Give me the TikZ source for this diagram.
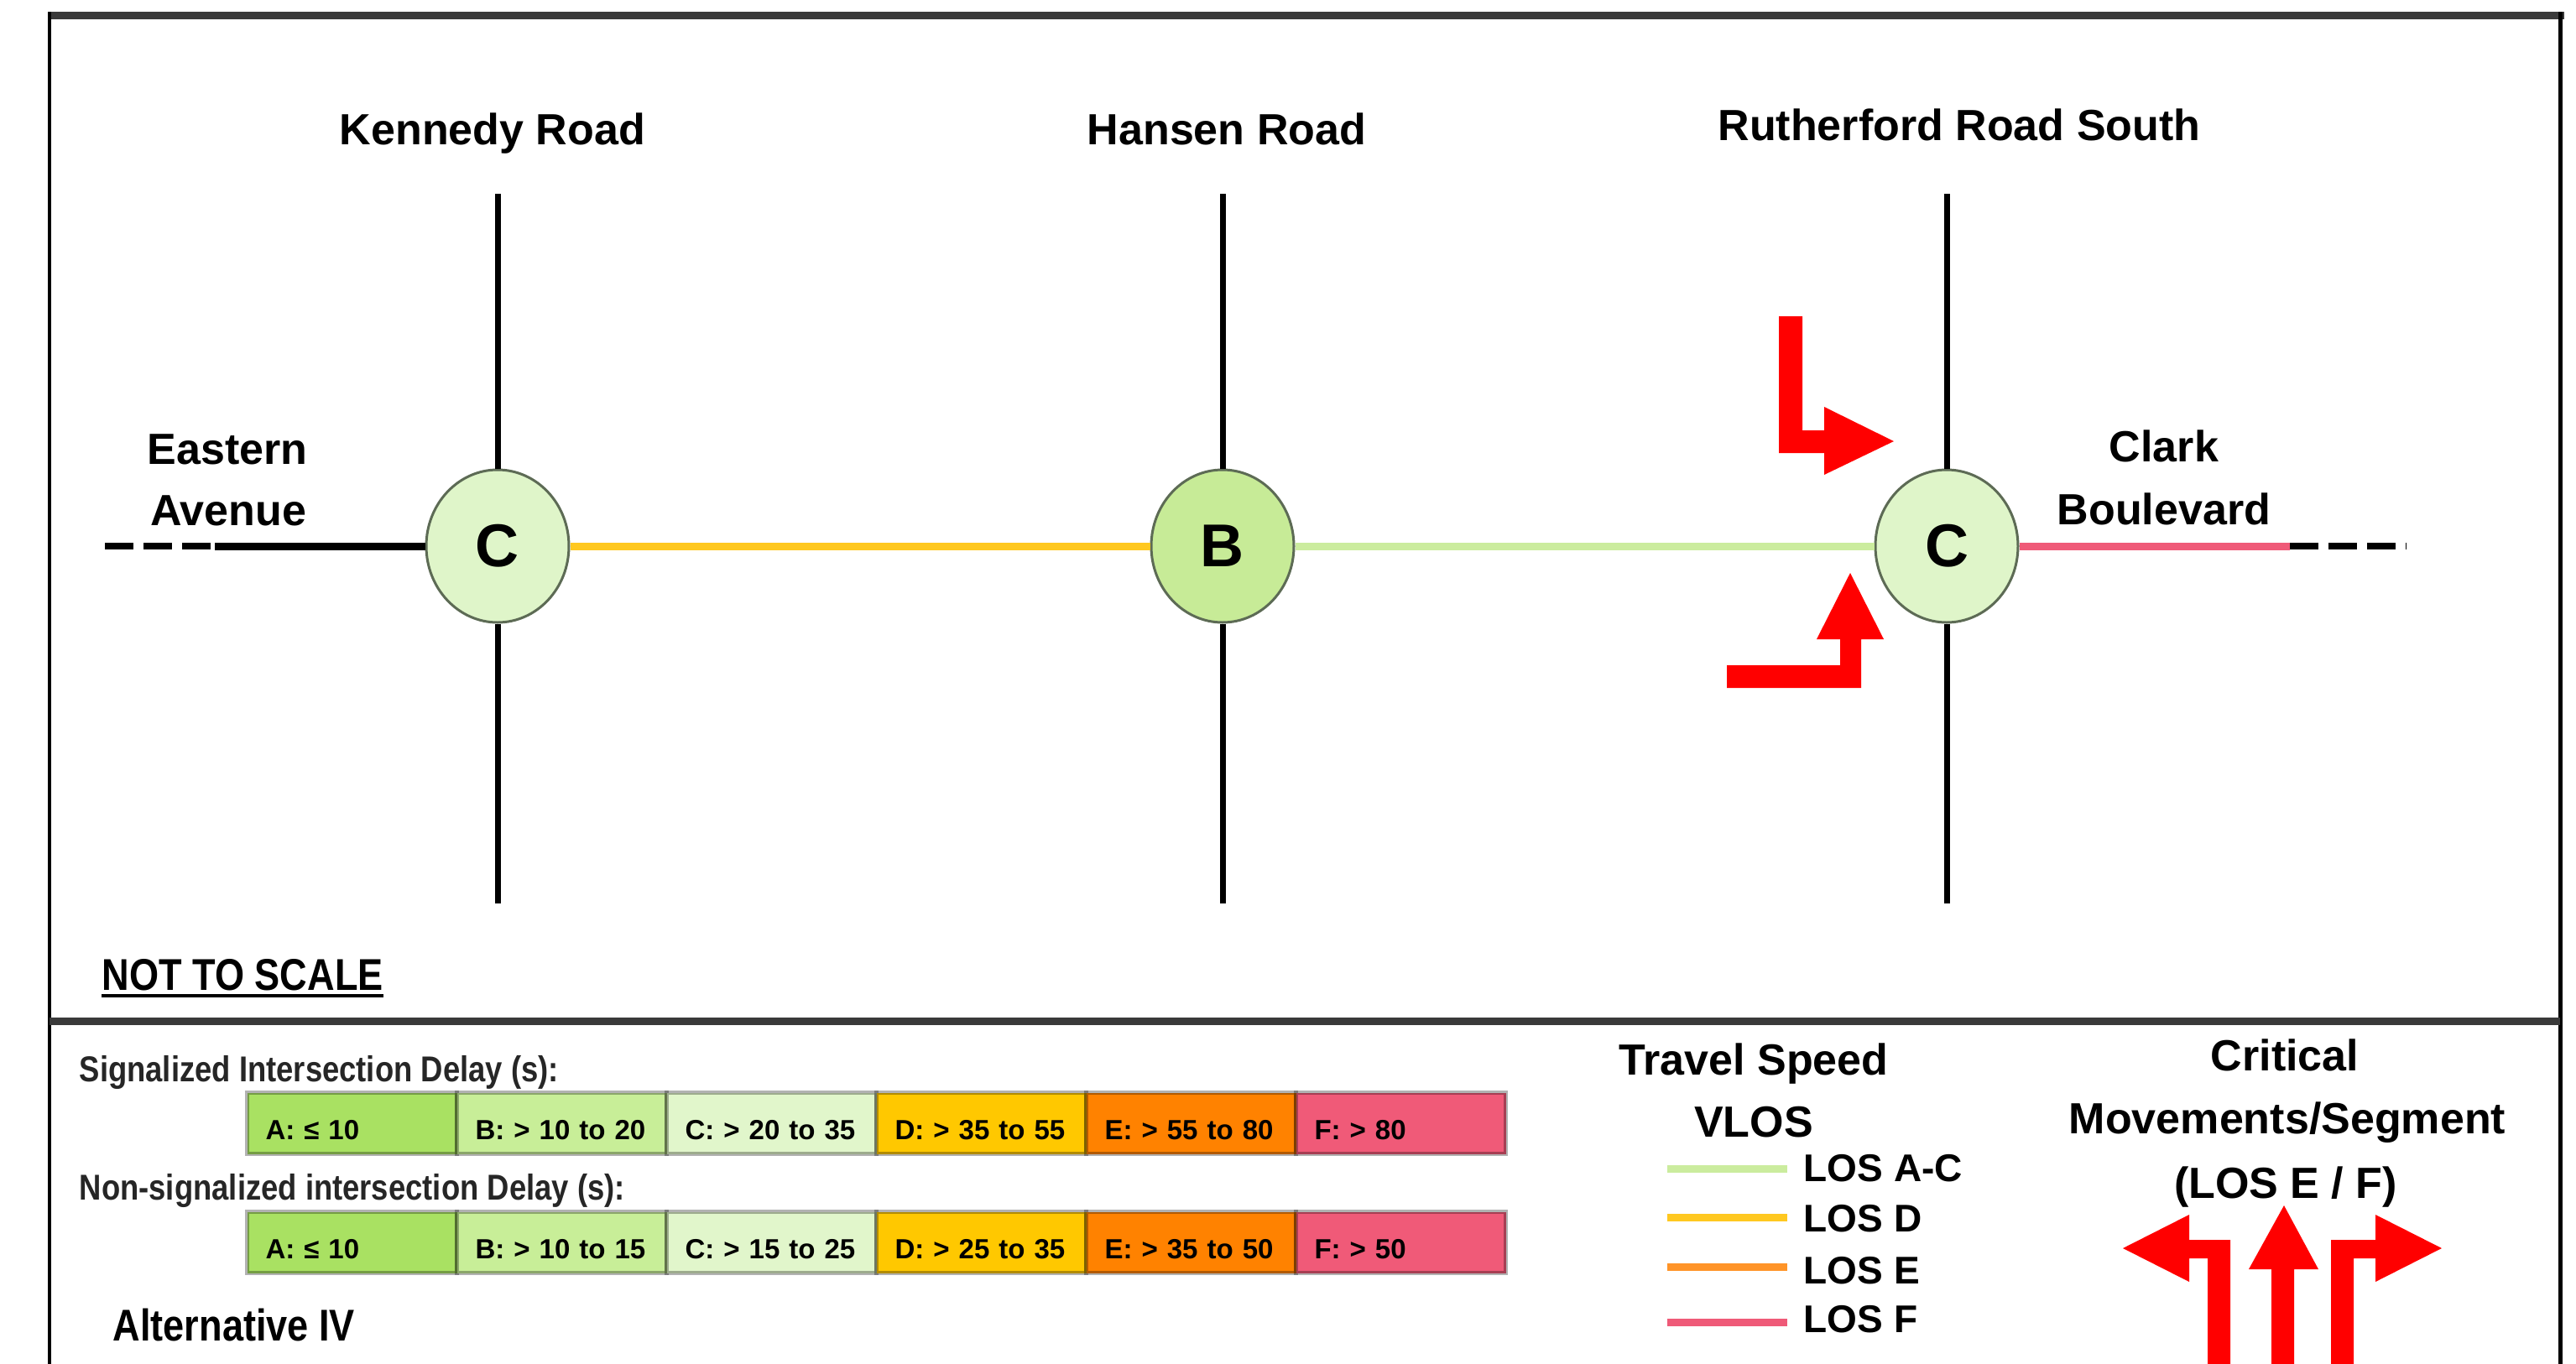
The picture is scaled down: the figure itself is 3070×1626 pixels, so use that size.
\documentclass[tikz,border=0pt]{standalone}
\usepackage{fontspec}
\setmainfont{Liberation Sans}
\newfontfamily\narrowfont{Liberation Sans}[FakeStretch=0.85]
\usepackage{tikz}
\usepackage{xcolor}
\usetikzlibrary{shapes.geometric}

\definecolor{losac}{HTML}{CBEC9E}
\definecolor{losd}{HTML}{FFC820}
\definecolor{lose}{HTML}{FF9428}
\definecolor{losf}{HTML}{EF5A78}
\definecolor{cellA}{HTML}{A9E162}
\definecolor{cellB}{HTML}{C8EE98}
\definecolor{cellC}{HTML}{E1F6CB}
\definecolor{cellD}{HTML}{FFC800}
\definecolor{cellE}{HTML}{FF8200}
\definecolor{cellF}{HTML}{F05A78}
\definecolor{isecC}{HTML}{DFF5C9}
\definecolor{isecB}{HTML}{C7EB97}
\definecolor{isecline}{HTML}{5D6B55}
\definecolor{framegray}{HTML}{3A3A3A}

\begin{document}
\begin{tikzpicture}[x=0.1mm,y=-0.1mm,
  road/.style={line width=0.7mm,black},
  mainline/.style={line width=0.9mm},
  dashroad/.style={line width=0.8mm,black,dash pattern=on 3.4mm off 1.2mm},
  isec/.style={ellipse,draw=isecline,line width=0.3mm,minimum width=17mm,minimum height=18.2mm,inner sep=0pt,
    font=\bfseries\fontsize{20.5}{24}\selectfont},
  roadname/.style={inner sep=0pt,anchor=base,font=\bfseries\fontsize{14.8}{17}\selectfont},
  legtitle/.style={inner sep=0pt,anchor=base,font=\bfseries\fontsize{14.8}{17}\selectfont},
  loslabel/.style={inner sep=0pt,anchor=base west,font=\bfseries\fontsize{13.1}{15}\selectfont},
  delayhead/.style={inner sep=0pt,anchor=base west,text=black!85,font=\narrowfont\bfseries\fontsize{12.2}{14}\selectfont},
  cell/.style={draw=black,draw opacity=0.3,line width=0.5mm,anchor=north west,minimum width=25mm,minimum height=7.3mm,
    inner xsep=2.2mm,text width=20.6mm,align=left,text height=3.9mm,text depth=0mm,
    font=\bfseries\fontsize{9.4}{11}\selectfont},
  swatch/.style={line width=0.9mm},
  movearrow/.style={fill=red}]

\useasboundingbox (0,0) rectangle (3070,1626);

% frame
\draw[framegray,line width=0.9mm] (57,18) -- (3056,18);
\draw[black,line width=0.45mm] (59,14) -- (59,1626);
\draw[black,line width=0.5mm] (3051,14) -- (3051,1626);
\draw[framegray,line width=0.9mm] (59,1217) -- (3051,1217);

% intersections
\node[isec,fill=isecC] (kennedy) at (593,651) {C};
\node[isec,fill=isecB] (hansen) at (1457,651) {B};
\node[isec,fill=isecC] (rutherford) at (2320,651) {C};

\coordinate (kennedyN) at (593,231);
\coordinate (kennedyS) at (593,1077);
\coordinate (hansenN) at (1457,231);
\coordinate (hansenS) at (1457,1077);
\coordinate (rutherfordN) at (2320,231);
\coordinate (rutherfordS) at (2320,1077);
\coordinate (eastdash) at (125,651);
\coordinate (eastend) at (256,651);
\coordinate (clarkend) at (2729,651);
\coordinate (clarkdash) at (2868,651);

\draw[road] (kennedyN) -- (kennedy.north);
\draw[road] (kennedy.south) -- (kennedyS);
\draw[road] (hansenN) -- (hansen.north);
\draw[road] (hansen.south) -- (hansenS);
\draw[road] (rutherfordN) -- (rutherford.north);
\draw[road] (rutherford.south) -- (rutherfordS);

\draw[dashroad] (eastdash) -- (eastend);
\draw[mainline,black] (eastend) -- (kennedy.west);
\draw[mainline,losd] (kennedy.east) -- (hansen.west);
\draw[mainline,losac] (hansen.east) -- (rutherford.west);
\draw[mainline,losf] (rutherford.east) -- (clarkend);
\draw[dashroad] (clarkend) -- (clarkdash);

% road names
\node[roadname] (kennedyname) at (587,172) {Kennedy Road};
\node[roadname] (hansenname) at (1462,172) {Hansen Road};
\node[roadname] (rutherfordname) at (2335,167) {Rutherford Road South};
\node[roadname] (eastern1) at (271,553) {Eastern};
\node[roadname] (eastern2) at (272,626) {Avenue};
\node[roadname] (clark1) at (2579,550) {Clark};
\node[roadname] (clark2) at (2579,625) {Boulevard};

% critical movements at Rutherford
\fill[movearrow] (2120,377) -- (2148,377) -- (2148,513) -- (2174,513) -- (2174,485) -- (2257,526)
  -- (2174,566) -- (2174,540) -- (2120,540) -- cycle;
\fill[movearrow] (2058,793) -- (2193,793) -- (2193,762) -- (2165,762) -- (2205,683) -- (2245,762)
  -- (2218,762) -- (2218,820) -- (2058,820) -- cycle;

\node[inner sep=0pt,anchor=base west,font=\narrowfont\bfseries\fontsize{15.1}{18}\selectfont] (nts) at (121,1180) {NOT TO SCALE};
\draw[line width=0.4mm] ([yshift=-0.7mm]nts.base west) -- ([yshift=-0.7mm]nts.base east);

% delay legend
\node[delayhead] (sighead) at (94,1289) {Signalized Intersection Delay (s):};
\node[cell,fill=cellA] (sA) at (292,1300) {A: ≤ 10};
\node[cell,fill=cellB] (sB) at (542,1300) {B: > 10 to 20};
\node[cell,fill=cellC] (sC) at (792,1300) {C: > 20 to 35};
\node[cell,fill=cellD] (sD) at (1042,1300) {D: > 35 to 55};
\node[cell,fill=cellE] (sE) at (1292,1300) {E: > 55 to 80};
\node[cell,fill=cellF] (sF) at (1542,1300) {F: > 80};

\node[delayhead] (nonhead) at (94,1430) {Non-signalized intersection Delay (s):};
\node[cell,fill=cellA] (nA) at (292,1442) {A: ≤ 10};
\node[cell,fill=cellB] (nB) at (542,1442) {B: > 10 to 15};
\node[cell,fill=cellC] (nC) at (792,1442) {C: > 15 to 25};
\node[cell,fill=cellD] (nD) at (1042,1442) {D: > 25 to 35};
\node[cell,fill=cellE] (nE) at (1292,1442) {E: > 35 to 50};
\node[cell,fill=cellF] (nF) at (1542,1442) {F: > 50};

\node[inner sep=0pt,anchor=base west,font=\narrowfont\bfseries\fontsize{15.1}{18}\selectfont] (alt) at (134,1598) {Alternative IV};

% travel speed legend
\node[legtitle] (tspeed) at (2090,1281) {Travel Speed};
\node[legtitle] (vlos) at (2090,1355) {VLOS};
\draw[swatch,losac] (1987,1393) -- (2130,1393);
\draw[swatch,losd] (1987,1451) -- (2130,1451);
\draw[swatch,lose] (1987,1510) -- (2130,1510);
\draw[swatch,losf] (1987,1576) -- (2130,1576);
\node[loslabel] (losacname) at (2149,1408) {LOS A-C};
\node[loslabel] (losdname) at (2149,1468) {LOS D};
\node[loslabel] (losename) at (2149,1530) {LOS E};
\node[loslabel] (losfname) at (2149,1588) {LOS F};

% critical movements legend
\node[legtitle] (crit1) at (2723,1276) {Critical};
\node[legtitle] (crit2) at (2726,1351) {Movements/Segment};
\node[legtitle] (crit3) at (2724,1428) {(LOS E / F)};
\fill[movearrow] (2631,1626) -- (2631,1500) -- (2609,1500) -- (2609,1528) -- (2530,1488) -- (2609,1448)
  -- (2609,1478) -- (2658,1478) -- (2658,1626) -- cycle;
\fill[movearrow] (2707,1626) -- (2707,1513) -- (2680,1513) -- (2722,1437) -- (2763,1513) -- (2734,1513)
  -- (2734,1626) -- cycle;
\fill[movearrow] (2778,1626) -- (2778,1478) -- (2831,1478) -- (2831,1448) -- (2910,1488) -- (2831,1528)
  -- (2831,1500) -- (2805,1500) -- (2805,1626) -- cycle;
\end{tikzpicture}
\end{document}
